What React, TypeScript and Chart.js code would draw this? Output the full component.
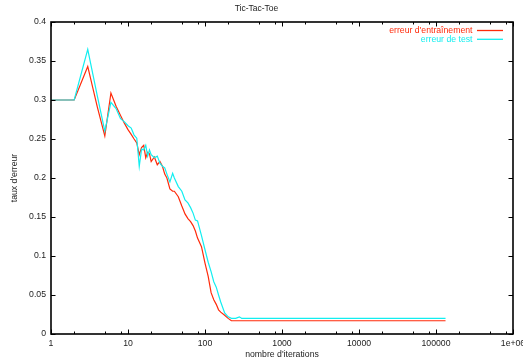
import React, { useEffect, useRef } from "react";
import { Chart, registerables } from "chart.js";

Chart.register(...registerables);

const TITLE = "Tic-Tac-Toe";
const X_TITLE = "nombre d'iterations";
const Y_TITLE = "taux d'erreur";
const SERIES_NAMES = ["erreur d'entraînement", "erreur de test"];
const SERIES_COLORS = ["#ff2a0a", "#12eef0"];

const ITERATIONS = [
  1, 2, 3, 4, 5, 6, 7, 8, 9, 10,
  11, 12, 13, 14, 15, 16, 17, 18, 19, 20,
  22, 24, 26, 28, 30, 32, 35, 38, 40, 45,
  50, 55, 60, 65, 70, 75, 80, 90, 100, 110,
  120, 130, 140, 150, 160, 180, 200, 220, 250, 280,
  300, 133000,
];

const TRAIN_ERROR = [
  0.300, 0.300, 0.343, 0.291, 0.254, 0.309, 0.292, 0.280, 0.270, 0.262,
  0.256, 0.250, 0.245, 0.230, 0.239, 0.242, 0.226, 0.233, 0.231, 0.221,
  0.227, 0.217, 0.221, 0.215, 0.205, 0.200, 0.186, 0.183, 0.183, 0.176,
  0.164, 0.154, 0.148, 0.144, 0.139, 0.132, 0.123, 0.112, 0.091, 0.074,
  0.053, 0.044, 0.038, 0.031, 0.028, 0.024, 0.020, 0.017, 0.017, 0.017,
  0.017, 0.017,
];

const TEST_ERROR = [
  0.300, 0.300, 0.365, 0.305, 0.260, 0.297, 0.289, 0.276, 0.272, 0.267,
  0.264, 0.255, 0.251, 0.215, 0.237, 0.236, 0.242, 0.228, 0.236, 0.230,
  0.226, 0.228, 0.219, 0.215, 0.213, 0.205, 0.195, 0.206, 0.200, 0.189,
  0.183, 0.172, 0.168, 0.162, 0.155, 0.146, 0.145, 0.126, 0.108, 0.092,
  0.080, 0.067, 0.060, 0.050, 0.041, 0.027, 0.022, 0.020, 0.020, 0.022,
  0.020, 0.020,
];

const X_TICKS = [1, 10, 100, 1000, 10000, 100000, 1000000];
const X_TICK_LABELS = ["1", "10", "100", "1000", "10000", "100000", "1e+06"];
const X_MINOR_FACTORS = [2, 5, 8];
const Y_TICKS = [0, 0.05, 0.1, 0.15, 0.2, 0.25, 0.3, 0.35, 0.4];
const Y_TICK_LABELS = ["0", "0.05", "0.1", "0.15", "0.2", "0.25", "0.3", "0.35", "0.4"];

const FONT = "'Liberation Sans', Arial, sans-serif";
const TEXT_COLOR = "#222";

const framePlugin = {
  id: "gnuFrame",
  afterDraw(chart: any) {
    const { ctx, chartArea } = chart;
    const { left, right, top, bottom } = chartArea;
    const xs = chart.scales.x;
    const ys = chart.scales.y;
    ctx.save();
    ctx.strokeStyle = "#000";
    ctx.lineWidth = 1;
    ctx.beginPath();
    const major = 4.5;
    const minor = 2.5;
    Y_TICKS.forEach((v) => {
      const y = Math.round(ys.getPixelForValue(v)) + 0.5;
      ctx.moveTo(left, y);
      ctx.lineTo(left + major, y);
      ctx.moveTo(right, y);
      ctx.lineTo(right - major, y);
    });
    X_TICKS.forEach((v, i) => {
      const x = Math.round(xs.getPixelForValue(v)) + 0.5;
      ctx.moveTo(x, bottom);
      ctx.lineTo(x, bottom - major);
      ctx.moveTo(x, top);
      ctx.lineTo(x, top + major);
      if (i < X_TICKS.length - 1) {
        X_MINOR_FACTORS.forEach((f) => {
          const mx = Math.round(xs.getPixelForValue(v * f)) + 0.5;
          ctx.moveTo(mx, bottom);
          ctx.lineTo(mx, bottom - minor);
          ctx.moveTo(mx, top);
          ctx.lineTo(mx, top + minor);
        });
      }
    });
    ctx.stroke();
    ctx.lineWidth = 1.6;
    ctx.strokeRect(left, top, right - left, bottom - top);
    ctx.restore();
  },
};

const legendPlugin = {
  id: "gnuLegend",
  afterDraw(chart: any) {
    const { ctx, chartArea } = chart;
    ctx.save();
    ctx.font = `8.7px ${FONT}`;
    ctx.textAlign = "right";
    ctx.textBaseline = "middle";
    chart.data.datasets.forEach((ds: any, i: number) => {
      const y = chartArea.top + 8.5 + i * 8.8;
      const lineRight = chartArea.right - 10;
      const lineLeft = lineRight - 26;
      ctx.fillStyle = ds.borderColor;
      ctx.fillText(ds.label, lineLeft - 4.5, y);
      ctx.strokeStyle = ds.borderColor;
      ctx.lineWidth = 1.3;
      ctx.beginPath();
      ctx.moveTo(lineLeft, y);
      ctx.lineTo(lineRight, y);
      ctx.stroke();
    });
    ctx.restore();
  },
};

export default function App() {
  const canvasRef = useRef<HTMLCanvasElement | null>(null);

  useEffect(() => {
    const canvas = canvasRef.current;
    if (!canvas) return;
    const chart = new Chart(canvas, {
      type: "line",
      data: {
        datasets: [
          {
            label: SERIES_NAMES[0],
            data: ITERATIONS.map((x, i) => ({ x, y: TRAIN_ERROR[i] })),
            borderColor: SERIES_COLORS[0],
            backgroundColor: SERIES_COLORS[0],
            borderWidth: 1.2,
            pointRadius: 0,
            tension: 0,
            fill: false,
            order: 1,
          },
          {
            label: SERIES_NAMES[1],
            data: ITERATIONS.map((x, i) => ({ x, y: TEST_ERROR[i] })),
            borderColor: SERIES_COLORS[1],
            backgroundColor: SERIES_COLORS[1],
            borderWidth: 1.2,
            pointRadius: 0,
            tension: 0,
            fill: false,
            order: 0,
          },
        ],
      },
      options: {
        animation: false,
        responsive: false,
        devicePixelRatio: 1,
        layout: { padding: { left: 0, right: 10, top: 0, bottom: 0 } },
        plugins: {
          legend: { display: false },
          tooltip: { enabled: false },
          title: {
            display: true,
            text: TITLE,
            color: TEXT_COLOR,
            font: { family: FONT, size: 8.5, weight: "normal" },
            padding: { top: 4, bottom: 7.8 },
          },
        },
        scales: {
          x: {
            type: "logarithmic",
            min: 1,
            max: 1000000,
            grid: { display: false, drawTicks: false },
            border: { display: false },
            afterBuildTicks: (scale: any) => {
              scale.ticks = X_TICKS.map((v) => ({ value: v, major: true }));
            },
            afterFit: (scale: any) => {
              scale.height = 30;
              scale.paddingRight = 0;
              scale.paddingLeft = 0;
            },
            ticks: {
              autoSkip: false,
              maxRotation: 0,
              minRotation: 0,
              padding: 4,
              color: TEXT_COLOR,
              font: { family: FONT, size: 8.7 },
              callback: (_v: any, i: number) => X_TICK_LABELS[i],
            },
            title: {
              display: true,
              text: X_TITLE,
              color: TEXT_COLOR,
              font: { family: FONT, size: 8.7 },
              padding: { top: 0, bottom: 3.8 },
            },
          },
          y: {
            type: "linear",
            min: 0,
            max: 0.4,
            grid: { display: false, drawTicks: false },
            border: { display: false },
            afterBuildTicks: (scale: any) => {
              scale.ticks = Y_TICKS.map((v) => ({ value: v }));
            },
            afterFit: (scale: any) => {
              scale.width = 51;
              scale.paddingTop = 0;
              scale.paddingBottom = 0;
            },
            ticks: {
              padding: 5,
              color: TEXT_COLOR,
              font: { family: FONT, size: 8.7 },
              callback: (_v: any, i: number) => Y_TICK_LABELS[i],
            },
            title: {
              display: true,
              text: Y_TITLE,
              color: TEXT_COLOR,
              font: { family: FONT, size: 8.7 },
              padding: { top: 9.8, bottom: 0 },
            },
          },
        },
      },
      plugins: [framePlugin, legendPlugin],
    });
    return () => chart.destroy();
  }, []);

  return (
    <div style={{ position: "absolute", left: 0, top: 0, width: 523, height: 364, background: "#fff" }}>
      <canvas ref={canvasRef} width={523} height={364} style={{ display: "block" }} />
    </div>
  );
}
